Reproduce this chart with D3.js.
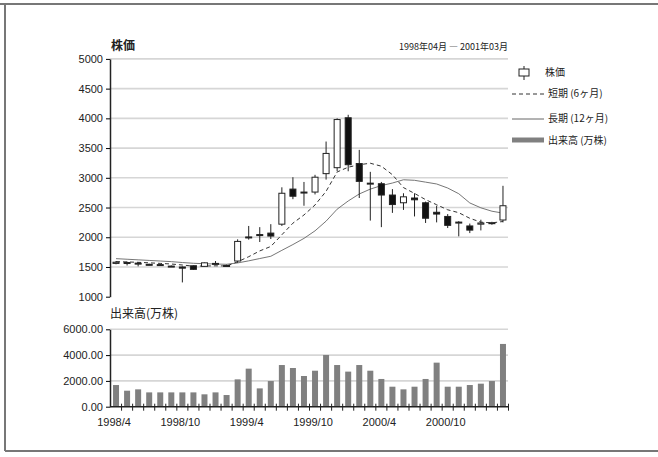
<!DOCTYPE html>
<html>
<head>
<meta charset="utf-8">
<style>
  body { margin: 0; background: #fff; }
  svg text { font-family: "Liberation Sans", "Noto Sans CJK JP", sans-serif; fill: #222; }
  .jp { font-family: "Noto Sans CJK JP", sans-serif; }
</style>
</head>
<body>
<svg width="658" height="457"></svg>
<script src="https://cdn.jsdelivr.net/npm/d3@7"></script>
<script>

// monthly data, 1998/04 - 2001/03
var months = ["1998/4","1998/5","1998/6","1998/7","1998/8","1998/9","1998/10","1998/11","1998/12",
  "1999/1","1999/2","1999/3","1999/4","1999/5","1999/6","1999/7","1999/8","1999/9","1999/10",
  "1999/11","1999/12","2000/1","2000/2","2000/3","2000/4","2000/5","2000/6","2000/7","2000/8",
  "2000/9","2000/10","2000/11","2000/12","2001/1","2001/2","2001/3"];

var open  = [1560,1570,1565,1545,1540,1515,1500,1520,1510,1555,1525,1600,2005,2045,2070,2220,2810,2750,
             2760,3070,3170,4010,3240,2900,2900,2710,2580,2660,2580,2420,2350,2250,2190,2220,2230,2290];
var close = [1580,1575,1560,1540,1535,1510,1480,1460,1570,1560,1520,1930,2000,2040,2020,2740,2690,2760,
             3010,3410,3980,3220,2940,2910,2710,2550,2680,2630,2320,2390,2200,2255,2120,2240,2245,2530];
var high  = [1600,1590,1580,1555,1550,1525,1510,1525,1575,1600,1540,1965,2190,2170,2220,2840,3010,2930,
             3050,3610,4000,4060,3470,3100,2930,2810,2740,2740,2600,2530,2390,2270,2230,2295,2260,2865];
var low   = [1545,1525,1510,1530,1525,1500,1240,1450,1505,1530,1505,1570,1960,1920,1970,2190,2640,2530,
             2720,2970,3110,3110,2660,2280,2170,2410,2460,2350,2240,2250,2155,2015,2070,2115,2210,2250];

// short term (6 months) and long term (12 months) lines
var shortTerm = [1590,1585,1578,1570,1560,1550,1533,1514,1516,1519,1517,1587,1673,1770,1845,2042,2237,2375,
                 2543,2772,3098,3178,3220,3245,3195,3052,2835,2737,2633,2547,2462,2413,2319,2254,2242,2265];
var longTerm  = [1640,1630,1620,1610,1600,1590,1575,1562,1555,1550,1545,1568,1603,1642,1680,1780,1877,1981,
                 2108,2271,2472,2610,2728,2810,2869,2912,2967,2958,2927,2896,2828,2732,2577,2495,2438,2406];

// volume (10,000 shares)
var volume = [1680,1240,1345,1110,1110,1110,1110,1110,960,1110,905,2120,2950,1420,1990,3230,3000,2380,
              2790,4010,3230,2720,3230,2790,2150,1550,1345,1550,2150,3415,1550,1550,1680,1785,1990,4865];

var xTickLabels = ["1998/4","1998/10","1999/4","1999/10","2000/4","2000/10"];
var priceTicks = [1000,1500,2000,2500,3000,3500,4000,4500,5000];
var volTicks = [0,2000,4000,6000];

var svg = d3.select("svg");

// frame
svg.append("line").attr("x1", 0).attr("x2", 658).attr("y1", 4).attr("y2", 4)
    .attr("stroke", "#777").attr("stroke-width", 2);
svg.append("line").attr("x1", 5).attr("x2", 5).attr("y1", 4).attr("y2", 451)
    .attr("stroke", "#777").attr("stroke-width", 2);
svg.append("line").attr("x1", 5).attr("x2", 658).attr("y1", 451).attr("y2", 451)
    .attr("stroke", "#777").attr("stroke-width", 2);

var x = d3.scaleBand()
    .domain(months)
    .range([110.5, 508.5])
    .paddingInner(0)
    .paddingOuter(0);

var y = d3.scaleLinear().domain([1000, 5000]).range([296.7, 58.9]);
var yv = d3.scaleLinear().domain([0, 6000]).range([406.7, 329.3]);

function cx(d) { return x(d) + x.bandwidth() / 2; }

// ---- price panel ----
var g = svg.append("g");

g.selectAll(".grid")
  .data(priceTicks.slice(1))
  .enter().append("line")
    .attr("x1", 110).attr("x2", 508)
    .attr("y1", function(d) { return y(d); })
    .attr("y2", function(d) { return y(d); })
    .attr("stroke", "#d6d6d6")
    .attr("stroke-width", 1.6);

g.append("g")
    .attr("transform", "translate(110,0)")
    .call(d3.axisLeft(y).tickValues(priceTicks).tickSize(4).tickSizeOuter(0).tickFormat(d3.format("d")))
    .call(function(a) {
      a.select(".domain").attr("stroke", "#222").attr("stroke-width", 1.5);
      a.selectAll("text").attr("font-size", 11).attr("x", -7).attr("fill", "#222");
    });

var shortLine = d3.line()
    .x(function(d, i) { return cx(months[i]); })
    .y(function(d) { return y(d); });

g.append("path")
    .datum(longTerm)
    .attr("fill", "none")
    .attr("stroke", "#666")
    .attr("stroke-width", 0.9)
    .attr("d", shortLine);

g.append("path")
    .datum(shortTerm)
    .attr("fill", "none")
    .attr("stroke", "#333")
    .attr("stroke-width", 1)
    .attr("stroke-dasharray", "4,3")
    .attr("d", shortLine);

var bw = 6;
var candle = g.selectAll(".candle")
  .data(months)
  .enter().append("g");

candle.append("line")
    .attr("x1", function(d) { return cx(d); })
    .attr("x2", function(d) { return cx(d); })
    .attr("y1", function(d, i) { return y(high[i]); })
    .attr("y2", function(d, i) { return y(low[i]); })
    .attr("stroke", "#222")
    .attr("stroke-width", 1);

candle.append("rect")
    .attr("x", function(d) { return cx(d) - bw / 2; })
    .attr("width", bw)
    .attr("y", function(d, i) { return y(Math.max(open[i], close[i])); })
    .attr("height", function(d, i) { return Math.max(1, Math.abs(y(open[i]) - y(close[i]))); })
    .attr("fill", function(d, i) { return close[i] >= open[i] ? "#fff" : "#111"; })
    .attr("stroke", "#222")
    .attr("stroke-width", 1);

g.append("text")
    .attr("class", "jp")
    .attr("x", 111).attr("y", 50)
    .attr("font-size", 12)
    .attr("font-weight", "bold")
    .text("株価");

g.append("text")
    .attr("class", "jp")
    .attr("x", 508).attr("y", 50)
    .attr("text-anchor", "end")
    .attr("font-size", 9)
    .text("1998年04月 ― 2001年03月");

// ---- legend ----
var lg = svg.append("g").attr("transform", "translate(512,0)");
lg.append("line").attr("x1", 12).attr("x2", 12).attr("y1", 66).attr("y2", 80).attr("stroke", "#222");
lg.append("rect").attr("x", 7).attr("y", 69).attr("width", 10).attr("height", 7)
    .attr("fill", "#fff").attr("stroke", "#222");
lg.append("line").attr("x1", 0).attr("x2", 32).attr("y1", 94).attr("y2", 94)
    .attr("stroke", "#333").attr("stroke-dasharray", "4,3");
lg.append("line").attr("x1", 0).attr("x2", 32).attr("y1", 119).attr("y2", 119)
    .attr("stroke", "#666");
lg.append("line").attr("x1", 0).attr("x2", 32).attr("y1", 140).attr("y2", 140)
    .attr("stroke", "#808080").attr("stroke-width", 5);

var legendText = [["株価", 76], ["短期 (6ヶ月)", 97], ["長期 (12ヶ月)", 122], ["出来高 (万株)", 144]];
lg.selectAll(".lt")
  .data(legendText)
  .enter().append("text")
    .attr("class", "jp")
    .attr("x", function(d, i) { return i === 0 ? 33 : 36; })
    .attr("y", function(d) { return d[1]; })
    .attr("font-size", 10)
    .text(function(d) { return d[0]; });

// ---- volume panel ----
var v = svg.append("g");

v.selectAll(".vgrid")
  .data(volTicks.slice(1))
  .enter().append("line")
    .attr("x1", 110).attr("x2", 508)
    .attr("y1", function(d) { return yv(d); })
    .attr("y2", function(d) { return yv(d); })
    .attr("stroke", "#d6d6d6")
    .attr("stroke-width", 1.6);

v.selectAll(".bar")
  .data(volume)
  .enter().append("rect")
    .attr("x", function(d, i) { return cx(months[i]) - 3; })
    .attr("width", 6)
    .attr("y", function(d) { return yv(d); })
    .attr("height", function(d) { return yv(0) - yv(d); })
    .attr("fill", "#808080");

v.append("g")
    .attr("transform", "translate(110,0)")
    .call(d3.axisLeft(yv).tickValues(volTicks).tickSize(4).tickSizeOuter(0).tickFormat(d3.format(".2f")))
    .call(function(a) {
      a.select(".domain").attr("stroke", "#222").attr("stroke-width", 1.5);
      a.selectAll("text").attr("font-size", 11).attr("x", -7).attr("fill", "#222");
    });

// x axis with a tick at each month boundary
v.append("line")
    .attr("x1", 110).attr("x2", 508.5)
    .attr("y1", yv(0)).attr("y2", yv(0))
    .attr("stroke", "#222").attr("stroke-width", 1.5);

v.selectAll(".xtick")
  .data(months)
  .enter().append("line")
    .attr("x1", function(d) { return x(d) + x.bandwidth(); })
    .attr("x2", function(d) { return x(d) + x.bandwidth(); })
    .attr("y1", yv(0) - 3)
    .attr("y2", yv(0) + 4)
    .attr("stroke", "#222");

v.selectAll(".xlabel")
  .data(xTickLabels)
  .enter().append("text")
    .attr("x", function(d) { return cx(d) - 2; })
    .attr("y", 426)
    .attr("text-anchor", "middle")
    .attr("font-size", 11)
    .text(function(d) { return d; });

v.append("text")
    .attr("class", "jp")
    .attr("x", 110).attr("y", 318)
    .attr("font-size", 12)
    .text("出来高(万株)");

</script>
</body>
</html>
